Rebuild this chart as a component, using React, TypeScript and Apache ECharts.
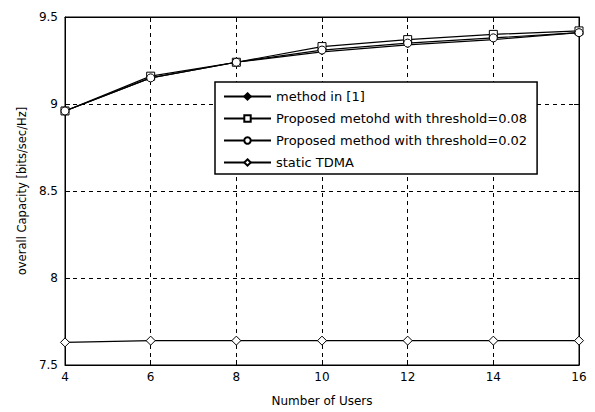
import React, { useEffect, useRef } from "react";
import * as echarts from "echarts";

const users = [4, 6, 8, 10, 12, 14, 16];
const methodRef = [8.96, 9.15, 9.24, 9.3, 9.34, 9.37, 9.41];
const proposed008 = [8.96, 9.16, 9.24, 9.33, 9.37, 9.4, 9.42];
const proposed002 = [8.96, 9.15, 9.24, 9.31, 9.35, 9.38, 9.41];
const staticTdma = [7.63, 7.64, 7.64, 7.64, 7.64, 7.64, 7.64];
const seriesNames = [
  "method in [1]",
  "Proposed metohd with threshold=0.08",
  "Proposed method with threshold=0.02",
  "static TDMA",
];

const FONT = "'DejaVu Sans', Arial, sans-serif";

export default function App() {
  const ref = useRef<HTMLDivElement>(null);
  useEffect(() => {
    if (!ref.current) return;
    const chart = echarts.init(ref.current, undefined, { renderer: "svg" });
    const pair = (ys: number[]) => users.map((u, i) => [u, ys[i]]);
    const mk = (name: string, ys: number[], symbol: string, size: number, filled: boolean) => ({
      name,
      type: "line",
      data: pair(ys),
      symbol,
      symbolSize: size,
      showAllSymbol: true,
      lineStyle: { color: "#000", width: 1.2 },
      itemStyle: { color: filled ? "#000" : "#fff", borderColor: "#000", borderWidth: 1 },
      emphasis: { disabled: true },
    });
    chart.setOption({
      animation: false,
      backgroundColor: "#fff",
      textStyle: { fontFamily: FONT },
      grid: { left: 65, right: 16, top: 17, bottom: 42, show: true, borderColor: "#000", borderWidth: 1 },
      legend: {
        orient: "vertical",
        left: 215,
        top: 82,
        backgroundColor: "#fff",
        borderColor: "#000",
        borderWidth: 1.5,
        borderRadius: 0,
        padding: [8, 10, 5, 8],
        itemWidth: 47,
        itemHeight: 8,
        itemGap: 9,
        textStyle: { fontFamily: FONT, fontSize: 13, color: "#000" },
        data: seriesNames,
      },
      xAxis: [
        {
          type: "value",
          min: 4,
          max: 16,
          interval: 2,
          name: "Number of Users",
          nameLocation: "middle",
          nameGap: 30,
          nameTextStyle: { fontFamily: FONT, fontSize: 12, color: "#000" },
          axisLine: { lineStyle: { color: "#000" } },
          axisTick: { inside: true, length: 5, lineStyle: { color: "#000" } },
          axisLabel: { fontFamily: FONT, fontSize: 12, color: "#000", margin: 6 },
          splitLine: { show: true, lineStyle: { color: "#000", type: [4, 4] } },
        },
        {
          type: "value",
          position: "top",
          min: 4,
          max: 16,
          interval: 2,
          axisLine: { lineStyle: { color: "#000" } },
          axisTick: { inside: true, length: 5, lineStyle: { color: "#000" } },
          axisLabel: { show: false },
          splitLine: { show: false },
        },
      ],
      yAxis: [
        {
          type: "value",
          min: 7.5,
          max: 9.5,
          interval: 0.5,
          name: "overall Capacity [bits/sec/Hz]",
          nameLocation: "middle",
          nameGap: 35,
          nameTextStyle: { fontFamily: FONT, fontSize: 11.5, color: "#000" },
          axisLine: { show: true, lineStyle: { color: "#000" } },
          axisTick: { show: true, inside: true, length: 5, lineStyle: { color: "#000" } },
          axisLabel: { fontFamily: FONT, fontSize: 12, color: "#000", margin: 7 },
          splitLine: { show: true, lineStyle: { color: "#000", type: [4, 4] } },
        },
        {
          type: "value",
          position: "right",
          min: 7.5,
          max: 9.5,
          interval: 0.5,
          axisLine: { show: true, lineStyle: { color: "#000" } },
          axisTick: { show: true, inside: true, length: 5, lineStyle: { color: "#000" } },
          axisLabel: { show: false },
          splitLine: { show: false },
        },
      ],
      series: [
        mk(seriesNames[0], methodRef, "diamond", 6, true),
        mk(seriesNames[1], proposed008, "rect", 8, false),
        mk(seriesNames[2], proposed002, "circle", 8, false),
        mk(seriesNames[3], staticTdma, "diamond", 9, false),
      ],
    });
    return () => chart.dispose();
  }, []);
  return <div ref={ref} style={{ width: 595, height: 412, position: "absolute", left: 0, top: 0 }} />;
}
